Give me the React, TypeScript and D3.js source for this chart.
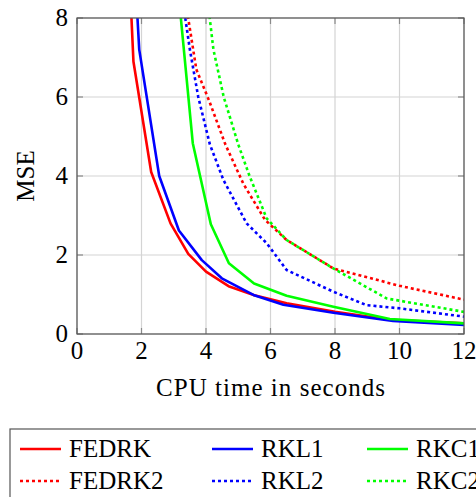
import React from 'react'
import * as d3 from 'd3'

const WIDTH = 476
const HEIGHT = 497
const margin = { top: 18, left: 77, right: 12, bottom: 163 }

// CPU time (s) vs MSE
const fedrk: [number, number][] = [[1.65, 8.7], [1.75, 6.9], [2.3, 4.1], [2.9, 2.8], [3.45, 2.03], [4.0, 1.58], [4.7, 1.21], [5.5, 0.98], [6.5, 0.78], [8, 0.56], [9.7, 0.36], [12, 0.27]]
const rkl1: [number, number][] = [[1.82, 8.8], [1.93, 7.2], [2.55, 4.0], [3.16, 2.62], [3.87, 1.87], [4.49, 1.41], [5.47, 0.99], [6.4, 0.74], [7.95, 0.54], [9.8, 0.33], [12, 0.23]]
const rkc1: [number, number][] = [[3.15, 8.6], [3.59, 4.83], [4.15, 2.78], [4.71, 1.79], [5.49, 1.28], [6.5, 0.97], [7.95, 0.69], [9.7, 0.38], [12, 0.27]]
const fedrk2: [number, number][] = [[3.35, 8.5], [3.7, 6.7], [4.1, 5.9], [4.6, 4.8], [5.16, 3.8], [5.83, 2.89], [6.5, 2.38], [7.95, 1.66], [10, 1.22], [12, 0.87]]
const rkl2: [number, number][] = [[3.25, 8.6], [3.5, 7.2], [3.76, 6.0], [4.12, 4.8], [4.54, 3.9], [5.26, 2.8], [5.88, 2.3], [6.5, 1.62], [7.95, 1.07], [8.98, 0.73], [10, 0.65], [12, 0.44]]
const rkc2: [number, number][] = [[4.0, 8.8], [4.23, 7.2], [4.55, 6.0], [5.0, 4.8], [5.35, 4.0], [5.88, 2.93], [6.5, 2.38], [7.95, 1.66], [9.6, 0.9], [12, 0.56]]

const xTicks = [0, 2, 4, 6, 8, 10, 12]
const yTicks = [0, 2, 4, 6, 8]

const series = [
  { name: 'FEDRK', data: fedrk, color: '#ff0000', dotted: false },
  { name: 'RKL1', data: rkl1, color: '#0000ff', dotted: false },
  { name: 'RKC1', data: rkc1, color: '#00ff00', dotted: false },
  { name: 'FEDRK2', data: fedrk2, color: '#ff0000', dotted: true },
  { name: 'RKL2', data: rkl2, color: '#0000ff', dotted: true },
  { name: 'RKC2', data: rkc2, color: '#00ff00', dotted: true },
]

const txt: React.CSSProperties = { fontFamily: "'Liberation Serif', 'Times New Roman', serif", fontSize: 25 }
const DOTS = '3 3'

const App = () => {
  const chartWidth = WIDTH - margin.left - margin.right
  const chartHeight = HEIGHT - margin.top - margin.bottom

  const xScale = d3.scaleLinear().domain([0, 12]).range([0, chartWidth])
  const yScale = d3.scaleLinear().domain([0, 8]).range([chartHeight, 0])

  const line = d3.line<[number, number]>()
    .x(d => xScale(d[0]))
    .y(d => yScale(d[1]))

  // legend columns / rows
  const colX = [20, 212, 367]
  const rowY = [449, 481]

  return (
    <svg width={WIDTH} height={HEIGHT} style={{ position: 'absolute', left: 0, top: 0, display: 'block' }}>
      <defs>
        <clipPath id="plot-clip">
          <rect x={0} y={0} width={chartWidth} height={chartHeight} />
        </clipPath>
      </defs>
      <g transform={`translate(${margin.left},${margin.top})`}>
        {/* grid */}
        {xTicks.map(t => (
          <line key={'gx' + t} x1={xScale(t)} x2={xScale(t)} y1={0} y2={chartHeight} stroke="#d4d4d4" strokeWidth={1.2} />
        ))}
        {yTicks.map(t => (
          <line key={'gy' + t} x1={0} x2={chartWidth} y1={yScale(t)} y2={yScale(t)} stroke="#d4d4d4" strokeWidth={1.2} />
        ))}
        {/* ticks */}
        {xTicks.map(t => (
          <g key={'tx' + t}>
            <line x1={xScale(t)} x2={xScale(t)} y1={chartHeight} y2={chartHeight - 6} stroke="#8a8a8a" strokeWidth={1.2} />
            <line x1={xScale(t)} x2={xScale(t)} y1={0} y2={6} stroke="#8a8a8a" strokeWidth={1.2} />
            <text x={xScale(t)} y={chartHeight + 25} style={txt} textAnchor="middle">{t}</text>
          </g>
        ))}
        {yTicks.map(t => (
          <g key={'ty' + t}>
            <line x1={0} x2={6} y1={yScale(t)} y2={yScale(t)} stroke="#8a8a8a" strokeWidth={1.2} />
            <line x1={chartWidth} x2={chartWidth - 6} y1={yScale(t)} y2={yScale(t)} stroke="#8a8a8a" strokeWidth={1.2} />
            <text x={-9} y={yScale(t) + 8} style={txt} textAnchor="end">{t}</text>
          </g>
        ))}
        {/* data */}
        <g clipPath="url(#plot-clip)">
          {series.map(s => (
            <path key={s.name} d={line(s.data) || ''} fill="none" stroke={s.color}
              strokeWidth={2.6} strokeDasharray={s.dotted ? DOTS : undefined} strokeLinejoin="round" />
          ))}
        </g>
        <rect x={0} y={0} width={chartWidth} height={chartHeight} fill="none" stroke="#555" strokeWidth={1.2} />
        {/* labels */}
        <text x={chartWidth / 2} y={chartHeight + 62} style={txt} textAnchor="middle"
          textLength={229} lengthAdjust="spacing">CPU time in seconds</text>
        <text transform={`translate(${-43.5},${chartHeight / 2}) rotate(-90)`} style={txt} textAnchor="middle">MSE</text>
      </g>

      {/* legend */}
      <rect x={10} y={429} width={500} height={100} fill="#fff" stroke="#555" strokeWidth={1.2} />
      {series.map((s, i) => {
        const cx = colX[i % 3]
        const cy = rowY[Math.floor(i / 3)]
        return (
          <g key={'lg' + s.name}>
            <line x1={cx} x2={cx + 41} y1={cy} y2={cy} stroke={s.color} strokeWidth={2.6}
              strokeDasharray={s.dotted ? DOTS : undefined} />
            <text x={cx + 49} y={cy + 8} style={txt}>{s.name}</text>
          </g>
        )
      })}
    </svg>
  )
}

export default App
